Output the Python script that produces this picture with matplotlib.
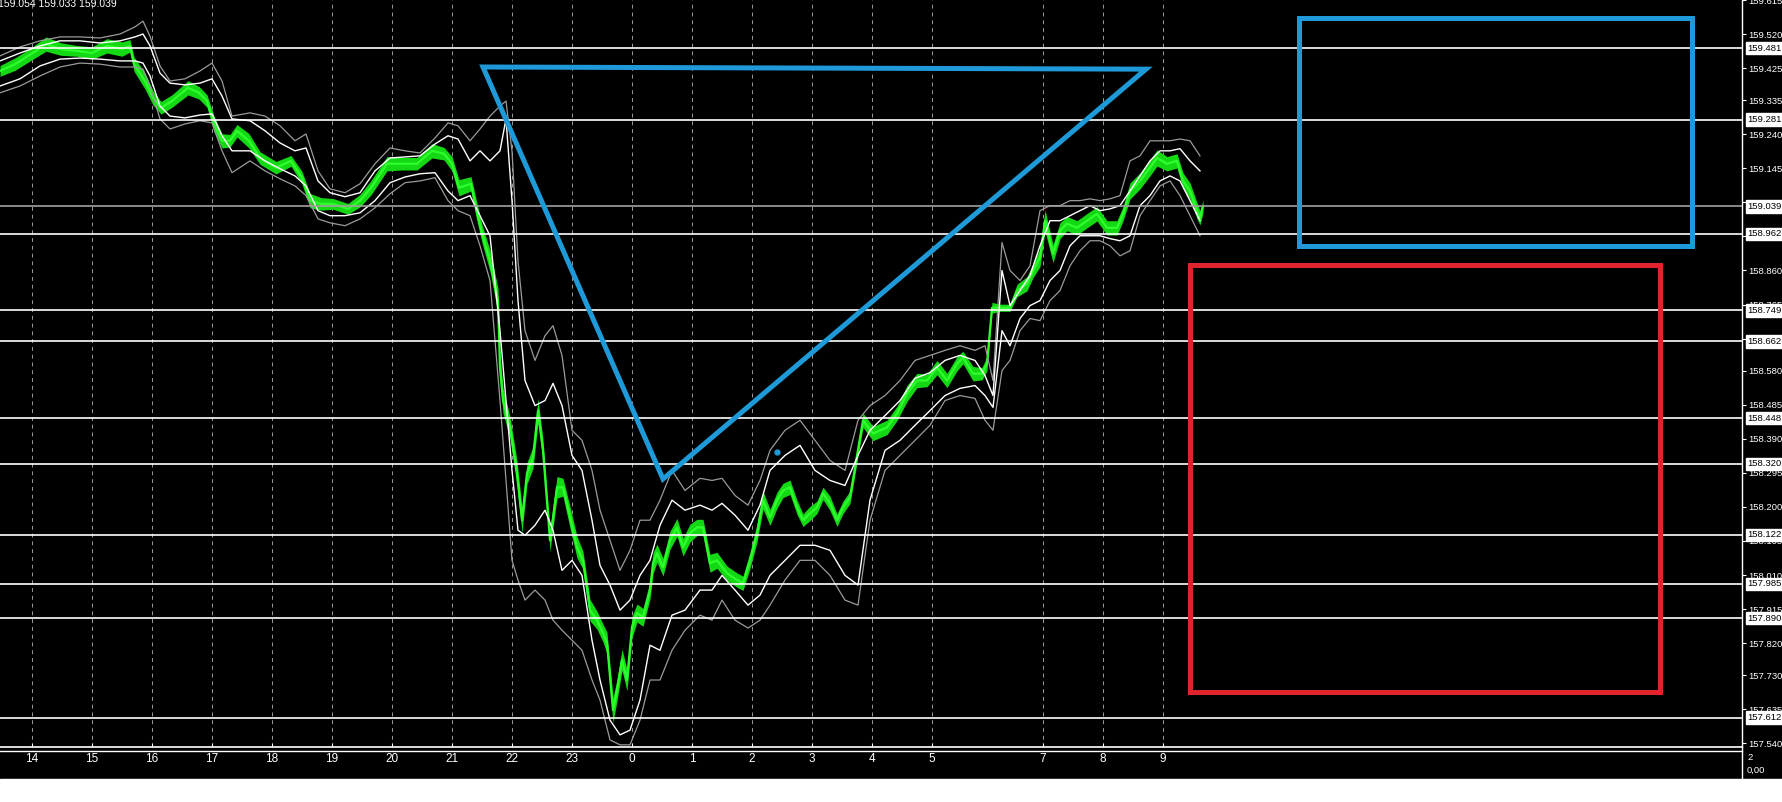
import matplotlib
matplotlib.use("Agg")
import matplotlib.pyplot as plt
import matplotlib.transforms as mtransforms
from matplotlib.lines import Line2D
from matplotlib.patches import Rectangle, Polygon
import numpy as np

plt.rcParams['font.family'] = ['Liberation Sans', 'DejaVu Sans']

# M1 chart: x = bar index (one pixel per bar)
price_x = [0, 15, 31, 46, 61, 77, 92, 107, 122, 130, 134, 145, 153, 161, 172, 188, 199, 207, 214, 222,
           230, 237, 249, 260, 276, 291, 302, 310, 321, 333, 348, 360, 371, 387, 402, 417, 432, 444, 452, 459,
           471, 476, 482, 490, 498, 500, 503, 510, 517, 522, 527, 533, 538, 543, 550, 557, 563, 570, 577, 583,
           590, 597, 603, 607, 613, 617, 622, 627, 632, 637, 643, 650, 653, 657, 663, 670, 677, 683, 690, 697,
           703, 710, 717, 727, 737, 743, 750, 757, 763, 770, 777, 783, 790, 797, 803, 810, 817, 823, 830, 837,
           843, 850, 863, 873, 887, 897, 907, 917, 927, 937, 947, 957, 963, 973, 982, 987, 992, 1000, 1010, 1017,
           1027, 1033, 1040, 1045, 1053, 1060, 1067, 1077, 1087, 1097, 1107, 1117, 1123, 1130, 1140, 1150, 1157, 1167, 1177, 1183,
           1190, 1197, 1200, 1203]
price_close = [159.417, 159.436, 159.464, 159.492, 159.478, 159.473, 159.467, 159.487, 159.478, 159.487,
               159.436, 159.389, 159.342, 159.314, 159.333, 159.370, 159.356, 159.333, 159.269, 159.222,
               159.222, 159.250, 159.222, 159.174, 159.147, 159.166, 159.119, 159.055, 159.046, 159.046,
               159.032, 159.055, 159.091, 159.158, 159.158, 159.158, 159.194, 159.186, 159.158, 159.091,
               159.102, 159.035, 158.963, 158.887, 158.776, 158.589, 158.497, 158.422, 158.294, 158.163,
               158.294, 158.338, 158.469, 158.358, 158.107, 158.255, 158.255, 158.171, 158.088, 158.051,
               157.912, 157.884, 157.848, 157.820, 157.633, 157.689, 157.773, 157.717, 157.865, 157.904,
               157.892, 157.968, 158.043, 158.071, 158.032, 158.107, 158.143, 158.088, 158.127, 158.143,
               158.143, 158.043, 158.051, 158.015, 157.996, 157.987, 158.051, 158.127, 158.219, 158.171,
               158.219, 158.246, 158.255, 158.199, 158.163, 158.182, 158.199, 158.238, 158.210, 158.163,
               158.199, 158.227, 158.442, 158.405, 158.422, 158.461, 158.517, 158.553, 158.553, 158.589,
               158.553, 158.600, 158.617, 158.572, 158.572, 158.600, 158.756, 158.756, 158.756, 158.804,
               158.823, 158.860, 158.896, 158.999, 158.907, 158.971, 158.991, 158.979, 158.999, 159.018,
               158.979, 158.979, 159.018, 159.082, 159.110, 159.147, 159.174, 159.158, 159.166, 159.110,
               159.082, 159.027, 159.007, 159.039]
# high-low extent of the candle mass around each point
price_range = [0.030, 0.035, 0.035, 0.040, 0.035, 0.030, 0.035, 0.040, 0.040, 0.035,
               0.040, 0.045, 0.040, 0.035, 0.035, 0.040, 0.035, 0.035, 0.045, 0.040,
               0.035, 0.035, 0.040, 0.035, 0.035, 0.030, 0.035, 0.040, 0.035, 0.030,
               0.030, 0.035, 0.040, 0.040, 0.035, 0.035, 0.040, 0.035, 0.040, 0.045,
               0.040, 0.050, 0.050, 0.060, 0.070, 0.080, 0.070, 0.060, 0.070, 0.070,
               0.060, 0.060, 0.070, 0.060, 0.060, 0.060, 0.050, 0.060, 0.060, 0.050,
               0.060, 0.050, 0.050, 0.060, 0.070, 0.060, 0.060, 0.060, 0.060, 0.050,
               0.050, 0.050, 0.060, 0.050, 0.050, 0.050, 0.050, 0.050, 0.050, 0.045,
               0.045, 0.050, 0.045, 0.040, 0.040, 0.040, 0.045, 0.050, 0.050, 0.045,
               0.045, 0.040, 0.040, 0.040, 0.035, 0.040, 0.035, 0.035, 0.040, 0.035,
               0.035, 0.035, 0.040, 0.040, 0.040, 0.040, 0.045, 0.040, 0.035, 0.040,
               0.040, 0.040, 0.035, 0.040, 0.035, 0.040, 0.030, 0.020, 0.020, 0.035,
               0.040, 0.040, 0.050, 0.060, 0.050, 0.045, 0.040, 0.040, 0.040, 0.040,
               0.040, 0.040, 0.040, 0.045, 0.045, 0.045, 0.045, 0.040, 0.040, 0.045,
               0.045, 0.045, 0.040, 0.035]

# envelope indicator (inner white / outer gray)
band_x = [0, 20, 40, 60, 80, 100, 120, 135, 143, 150, 160, 170, 185, 200, 212, 222, 232, 250, 265, 280,
          295, 306, 318, 330, 345, 360, 375, 390, 405, 420, 435, 448, 458, 470, 480, 490, 500, 506, 512, 518,
          525, 535, 545, 553, 562, 572, 582, 592, 600, 610, 620, 630, 640, 650, 660, 672, 685, 700, 712, 722,
          735, 748, 760, 770, 785, 800, 815, 830, 845, 858, 870, 885, 900, 915, 930, 945, 960, 975, 985, 993,
          1002, 1010, 1020, 1030, 1040, 1050, 1060, 1070, 1080, 1090, 1100, 1110, 1120, 1130, 1140, 1150, 1160, 1170, 1180, 1190,
          1200]
white_upper = [159.445, 159.467, 159.487, 159.501, 159.501, 159.495, 159.501, 159.512, 159.520, 159.487,
               159.411, 159.383, 159.378, 159.383, 159.395, 159.347, 159.283, 159.278, 159.250, 159.216,
               159.194, 159.202, 159.110, 159.077, 159.066, 159.077, 159.138, 159.174, 159.177, 159.180,
               159.213, 159.236, 159.227, 159.166, 159.194, 159.166, 159.194, 159.283, 159.055, 158.776,
               158.553, 158.483, 158.497, 158.545, 158.483, 158.344, 158.302, 158.163, 158.037, 157.982,
               157.912, 157.940, 158.009, 158.051, 158.149, 158.219, 158.191, 158.205, 158.191, 158.210,
               158.177, 158.135, 158.205, 158.302, 158.344, 158.372, 158.302, 158.274, 158.260, 158.344,
               158.414, 158.455, 158.497, 158.559, 158.575, 158.609, 158.623, 158.609, 158.567, 158.511,
               158.860, 158.762, 158.804, 158.846, 158.929, 158.999, 158.999, 159.013, 159.027, 159.041,
               159.027, 159.032, 159.041, 159.082, 159.124, 159.166, 159.194, 159.194, 159.200, 159.166,
               159.138]
white_lower = [159.375, 159.395, 159.431, 159.450, 159.453, 159.450, 159.445, 159.445, 159.439, 159.403,
               159.319, 159.291, 159.286, 159.294, 159.297, 159.236, 159.194, 159.194, 159.166, 159.144,
               159.124, 159.096, 159.027, 159.013, 159.013, 159.021, 159.055, 159.105, 159.121, 159.130,
               159.133, 159.082, 159.055, 159.069, 159.013, 158.957, 158.692, 158.497, 158.302, 158.135,
               158.121, 158.149, 158.191, 158.135, 158.023, 158.051, 158.009, 157.828, 157.717, 157.605,
               157.564, 157.577, 157.661, 157.814, 157.800, 157.898, 157.912, 157.968, 157.968, 158.009,
               157.968, 157.926, 157.954, 158.009, 158.051, 158.093, 158.093, 158.079, 158.009, 157.982,
               158.219, 158.358, 158.386, 158.428, 158.469, 158.511, 158.531, 158.539, 158.511, 158.478,
               158.692, 158.650, 158.726, 158.762, 158.776, 158.832, 158.860, 158.929, 158.957, 158.957,
               158.957, 158.949, 158.943, 158.957, 159.041, 159.069, 159.110, 159.124, 159.110, 159.055,
               158.999]
gray_upper = [159.459, 159.484, 159.501, 159.512, 159.512, 159.509, 159.520, 159.540, 159.556, 159.514,
              159.431, 159.389, 159.395, 159.417, 159.439, 159.389, 159.291, 159.300, 159.291, 159.264,
              159.222, 159.241, 159.138, 159.088, 159.077, 159.102, 159.158, 159.202, 159.194, 159.188,
              159.230, 159.272, 159.264, 159.222, 159.255, 159.291, 159.319, 159.333, 159.194, 158.887,
              158.692, 158.609, 158.678, 158.706, 158.623, 158.414, 158.386, 158.302, 158.191, 158.107,
              158.023, 158.079, 158.163, 158.163, 158.219, 158.302, 158.246, 158.280, 158.274, 158.280,
              158.232, 158.205, 158.274, 158.358, 158.414, 158.442, 158.386, 158.330, 158.302, 158.442,
              158.483, 158.511, 158.553, 158.609, 158.623, 158.637, 158.650, 158.637, 158.650, 158.553,
              158.938, 158.860, 158.832, 158.873, 159.027, 159.041, 159.041, 159.055, 159.055, 159.060,
              159.055, 159.060, 159.069, 159.166, 159.180, 159.222, 159.222, 159.222, 159.227, 159.222,
              159.180]
gray_lower = [159.356, 159.375, 159.403, 159.428, 159.439, 159.436, 159.428, 159.428, 159.422, 159.375,
              159.283, 159.255, 159.269, 159.278, 159.272, 159.194, 159.133, 159.166, 159.138, 159.116,
              159.096, 159.069, 159.004, 158.993, 158.985, 159.004, 159.035, 159.074, 159.105, 159.110,
              159.119, 159.055, 159.027, 159.013, 158.929, 158.832, 158.497, 158.274, 158.051, 157.996,
              157.940, 157.968, 157.940, 157.884, 157.856, 157.828, 157.800, 157.717, 157.661, 157.550,
              157.536, 157.536, 157.605, 157.717, 157.717, 157.800, 157.856, 157.898, 157.884, 157.940,
              157.884, 157.862, 157.884, 157.926, 157.996, 158.051, 158.051, 158.009, 157.940, 157.926,
              158.163, 158.302, 158.344, 158.386, 158.428, 158.497, 158.511, 158.503, 158.442, 158.414,
              158.581, 158.609, 158.692, 158.726, 158.720, 158.776, 158.804, 158.873, 158.915, 158.943,
              158.943, 158.929, 158.901, 158.915, 159.013, 159.055, 159.096, 159.110, 159.069, 159.013,
              158.957]

level_prices = [159.481, 159.281, 159.039, 158.962, 158.749, 158.662, 158.448, 158.320,
                158.122, 157.985, 157.890, 157.612]
bid_price = 159.039

scale_ticks = [159.615, 159.520, 159.425, 159.335, 159.240, 159.145, 159.050, 158.955, 158.860,
               158.765, 158.670, 158.580, 158.485, 158.390, 158.295, 158.200, 158.105, 158.010,
               157.915, 157.820, 157.730, 157.635, 157.540]

hour_pos = [32, 92, 152, 212, 272, 332, 392, 452, 512, 572, 632, 692, 752, 812, 872, 932, 1043, 1103, 1163]
hour_labels = ['14', '15', '16', '17', '18', '19', '20', '21', '22', '23',
               '0', '1', '2', '3', '4', '5', '7', '8', '9']

triangle_x = [483, 1146, 663]
triangle_y = [159.428, 159.422, 158.278]
dot_x, dot_y = 777, 158.354
blue_box = [1299, 1692, 158.928, 159.564]
red_box = [1190, 1660, 157.683, 158.874]

header = "159.054 159.033 159.039"

W, H = 1782, 802
fig = plt.figure(figsize=(W / 100, H / 100), dpi=100, facecolor='black')
fig.add_artist(Rectangle((0, 0), 1, 23 / H, transform=fig.transFigure, color='white', zorder=0))
ax = fig.add_axes([0, 55 / H, 1742 / W, 747 / H])
ax.set_facecolor('black')
ax.set_xlim(0, 1742)
ax.set_ylim(157.530, 159.612)

for x in hour_pos:
    ax.axvline(x, color='#9a9a9a', lw=0.7, ls=(0, (4, 4)), zorder=1)

close = np.array(price_close)
half = np.array(price_range) / 2
ax.fill_between(price_x, close - half, close + half, color='#14d814', lw=0, zorder=3)
ax.plot(price_x, close, color='#2cff2c', lw=1.6, zorder=3)
ax.plot(band_x, gray_upper, color='#9a9a9a', lw=0.9, zorder=4)
ax.plot(band_x, gray_lower, color='#9a9a9a', lw=0.9, zorder=4)
ax.plot(band_x, white_upper, color='white', lw=1.0, zorder=4)
ax.plot(band_x, white_lower, color='white', lw=1.0, zorder=4)

for p in level_prices:
    c = '#a0a0a0' if p == bid_price else 'white'
    ax.axhline(p, color=c, lw=1.2, zorder=5)

ax.add_patch(Polygon(list(zip(triangle_x, triangle_y)), closed=True, fill=False,
                     ec='#1e9ad8', lw=3.6, joinstyle='miter', zorder=6))
ax.plot([dot_x], [dot_y], 'o', color='#1e9ad8', ms=3.5, zorder=6)
ax.add_patch(Rectangle((blue_box[0], blue_box[2]), blue_box[1] - blue_box[0], blue_box[3] - blue_box[2],
                       fill=False, ec='#1e9ad8', lw=3.6, zorder=6))
ax.add_patch(Rectangle((red_box[0], red_box[2]), red_box[1] - red_box[0], red_box[3] - red_box[2],
                       fill=False, ec='#e0242c', lw=3.6, zorder=6))

# price scale on the right
ax.yaxis.tick_right()
ax.set_yticks(scale_ticks)
ax.set_yticklabels([f"{v:.3f}" for v in scale_ticks])
ax.tick_params(axis='y', colors='white', labelsize=6.8, length=3, width=0.8, pad=1.5)
ax.set_xticks(hour_pos)
ax.set_xticklabels(hour_labels)
ax.tick_params(axis='x', colors='white', labelsize=8.5, length=3, direction='in', pad=4)
for s in ['top', 'left']:
    ax.spines[s].set_visible(False)
ax.spines['bottom'].set_color('white')
ax.spines['right'].set_color('white')
ax.spines['bottom'].set_linewidth(1.2)
ax.spines['right'].set_linewidth(1.0)

trans = mtransforms.blended_transform_factory(ax.transAxes, ax.transData)
for p in level_prices:
    ax.text(1.0032, p, f"{p:.3f}", transform=trans, ha='left', va='center', fontsize=6.8,
            color='black', clip_on=False, zorder=10,
            bbox=dict(boxstyle='square,pad=0.2', fc='white', ec='white'))

# second border line and scale line in the lower strip
fig.add_artist(Line2D([0, 1742 / W], [1 - 750.5 / H] * 2, transform=fig.transFigure, color='white', lw=1.0))
fig.add_artist(Line2D([1742 / W] * 2, [23 / H, 55 / H], transform=fig.transFigure, color='white', lw=1.0))
fig.text(1747 / W, 1 - 757 / H, "2", color='white', fontsize=6.8, va='center')
fig.text(1747 / W, 1 - 770 / H, "0,00", color='white', fontsize=6.8, va='center')
fig.text(-2 / W, 1 - 4 / H, header, color='white', fontsize=7.5, va='center', ha='left')

fig.savefig("out.png", dpi=100, facecolor=fig.get_facecolor())
